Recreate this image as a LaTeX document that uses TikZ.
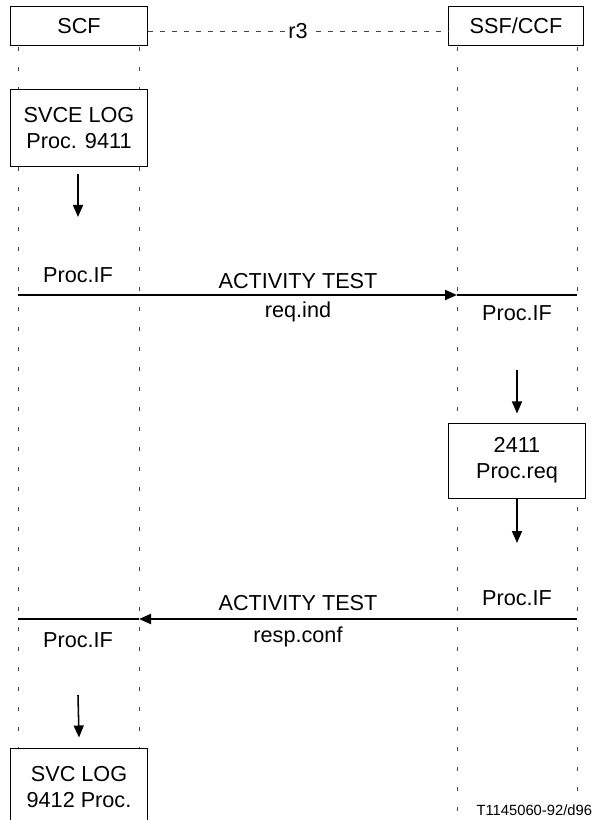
\documentclass[tikz,border=0pt]{standalone}
\usepackage{fontspec}
\setmainfont{Liberation Sans}
\usetikzlibrary{arrows.meta,positioning}
\definecolor{lifegray}{HTML}{444444}

\begin{document}
\begin{tikzpicture}[x=0.025cm,y=-0.025cm,
  every node/.style={font=\fontsize{15.4}{18.5}\selectfont},
  fbox/.style={draw,fill=white,line width=0.7pt,align=center,minimum width=3.4cm},
  lifeline/.style={lifegray,line width=0.6pt,dash pattern=on 0.1cm off 0.4cm},
  msg/.style={line width=1.4pt},
  tip/.style={-{Triangle[length=0.3cm,width=0.25cm]}},
  down/.style={line width=1.1pt,-{Triangle[length=0.3cm,width=0.25cm]}}]
  \clip (0,0) rectangle (606,820);
  % lifelines
  \foreach \x in {18,139,457,577}
    \draw[lifeline] (\x,47) -- (\x,820);
  % entities
  \node[fbox,minimum height=0.95cm] (scf) at (79,26) {SCF};
  \node[fbox,minimum height=0.95cm,minimum width=3.35cm] (ssf) at (516,26) {SSF/CCF};
  \draw[lifegray,line width=0.5pt,dash pattern=on 0.125cm off 0.175cm]
    ([yshift=-0.125cm]scf.east) -- ([yshift=-0.125cm]ssf.west)
    node[midway,fill=white,text=black,inner sep=1pt] (r3) {r3};
  % SCF side
  \node[fbox,minimum height=1.9cm] (svce) at (79,128) {SVCE LOG\\Proc. 9411};
  \coordinate (a1) at (78,174);
  \coordinate (a2) at (78,217);
  \draw[down] (a1) -- (a2);
  % first message
  \coordinate (m1s) at (18,295);
  \coordinate (m1t) at (457,295);
  \coordinate (m1e) at (577,295);
  \draw[msg,tip] (m1s) -- (m1t);
  \draw[msg] (m1t) -- (m1e);
  \node (pif1) at (78,275) {Proc.IF};
  \node (act1) at (298,281) {ACTIVITY TEST};
  \node (req) at (298,312) {req.ind};
  \node (pif2) at (517,313) {Proc.IF};
  % SSF/CCF side
  \coordinate (a3) at (517,370);
  \node[fbox,minimum height=1.875cm] (proc) at (517,460.5) {2411\\Proc.req};
  \draw[down] (a3) -- ([yshift=0.225cm]proc.north);
  \coordinate (a4) at (517,543);
  \draw[down] (proc.south) -- (a4);
  % second message
  \coordinate (m2s) at (577,619);
  \coordinate (m2t) at (139,619);
  \coordinate (m2e) at (18,619);
  \draw[msg,tip] (m2s) -- (m2t);
  \draw[msg] (m2t) -- (m2e);
  \node (pif3) at (517,598) {Proc.IF};
  \node (act2) at (298,603) {ACTIVITY TEST};
  \node (resp) at (298,637) {resp.conf};
  \node (pif4) at (78,640) {Proc.IF};
  % back on SCF
  \coordinate (a5) at (78,695);
  \node[fbox,minimum height=1.95cm] (svc) at (79,787) {SVC LOG\\9412 Proc.};
  \draw[down] (a5) -- ([yshift=0.25cm]svc.north);
  \node[font=\fontsize{10.5}{12}\selectfont,anchor=east] (ref) at (597,810) {T1145060-92/d96};
\end{tikzpicture}
\end{document}
